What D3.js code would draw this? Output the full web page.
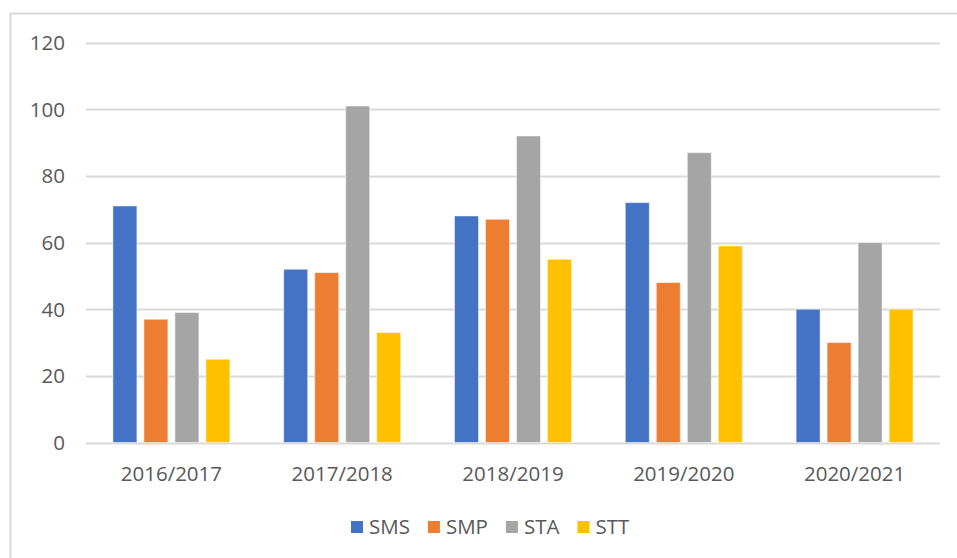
<!DOCTYPE html>
<html>
<head>
<meta charset="utf-8">
<script src="https://cdn.jsdelivr.net/npm/d3@7"></script>
<style>
  body { margin:0; background:#fff; }
  svg text { font-family:"Open Sans", "Noto Sans", sans-serif; fill:#595959; }
</style>
</head>
<body>
<div id="chart"></div>
<script>
// data
var years = ["2016/2017", "2017/2018", "2018/2019", "2019/2020", "2020/2021"];
var seriesNames = ["SMS", "SMP", "STA", "STT"];
var sms = [71, 52, 68, 72, 40];
var smp = [37, 51, 67, 48, 30];
var sta = [39, 101, 92, 87, 60];
var stt = [25, 33, 55, 59, 40];
var yTicks = [0, 20, 40, 60, 80, 100, 120];
var colors = ["#4472C4", "#ED7D31", "#A5A5A5", "#FFC000"];

var width = 957, height = 558;
var values = [sms, smp, sta, stt];
var fontSize = "20.5px";

var svg = d3.select("#chart").append("svg")
  .attr("width", width)
  .attr("height", height);

// chart frame (only left and top visible, rest is cut off)
svg.append("path")
  .attr("d", "M10.5," + height + "V13.5H" + width)
  .style("fill", "none")
  .style("stroke", "#d9d9d9")
  .style("stroke-width", 2);

var plot = {left:86, right:940, top:42.7, bottom:442.5};

var x = d3.scaleBand()
  .domain(years)
  .range([plot.left, plot.right]);

var y = d3.scaleLinear()
  .domain([0, 120])
  .range([plot.bottom, plot.top]);

// grid
svg.selectAll(".grid")
  .data(yTicks)
  .enter().append("line")
  .attr("x1", plot.left)
  .attr("x2", plot.right)
  .attr("y1", function(d){ return Math.round(y(d)) + 0.5; })
  .attr("y2", function(d){ return Math.round(y(d)) + 0.5; })
  .style("stroke", "#d9d9d9")
  .style("stroke-width", 2);

// y labels
svg.selectAll(".ylab")
  .data(yTicks)
  .enter().append("text")
  .attr("x", 65)
  .attr("y", function(d){ return y(d); })
  .attr("dy", "0.36em")
  .attr("text-anchor", "end")
  .style("font-size", fontSize)
  .text(function(d){ return d; });

// inner scale for series inside each category
var groupW = 117;
var inner = d3.scaleBand()
  .domain(seriesNames)
  .range([-groupW/2, groupW/2])
  .paddingInner(7/31);

var g = svg.selectAll(".grp")
  .data(years)
  .enter().append("g")
  .attr("transform", function(d){ return "translate(" + (x(d) + x.bandwidth()/2) + ",0)"; });

g.selectAll("rect")
  .data(function(d, i){ return seriesNames.map(function(s, j){ return {s:s, v:values[j][i], c:colors[j]}; }); })
  .enter().append("rect")
  .attr("x", function(d){ return inner(d.s); })
  .attr("width", inner.bandwidth())
  .attr("y", function(d){ return y(d.v); })
  .attr("height", function(d){ return y(0) - y(d.v); })
  .style("fill", function(d){ return d.c; })
  .style("stroke", "#fff")
  .style("stroke-opacity", 0.5)
  .style("stroke-width", 1);

// x labels
svg.selectAll(".xlab")
  .data(years)
  .enter().append("text")
  .attr("x", function(d){ return x(d) + x.bandwidth()/2; })
  .attr("y", 474)
  .attr("dy", "0.36em")
  .attr("text-anchor", "middle")
  .style("font-size", fontSize)
  .text(function(d){ return d; });

// legend
var legend = svg.append("g");
var lx = 351;
seriesNames.forEach(function(s, i){
  var item = legend.append("g").attr("transform", "translate(" + lx + ",527)");
  item.append("rect")
    .attr("x", 0).attr("y", -6)
    .attr("width", 12).attr("height", 12)
    .style("fill", colors[i]);
  var t = item.append("text")
    .attr("x", 18)
    .attr("dy", "0.36em")
    .style("font-size", fontSize)
    .text(s);
  lx += 18 + t.node().getComputedTextLength() + 18;
});
</script>
</body>
</html>
